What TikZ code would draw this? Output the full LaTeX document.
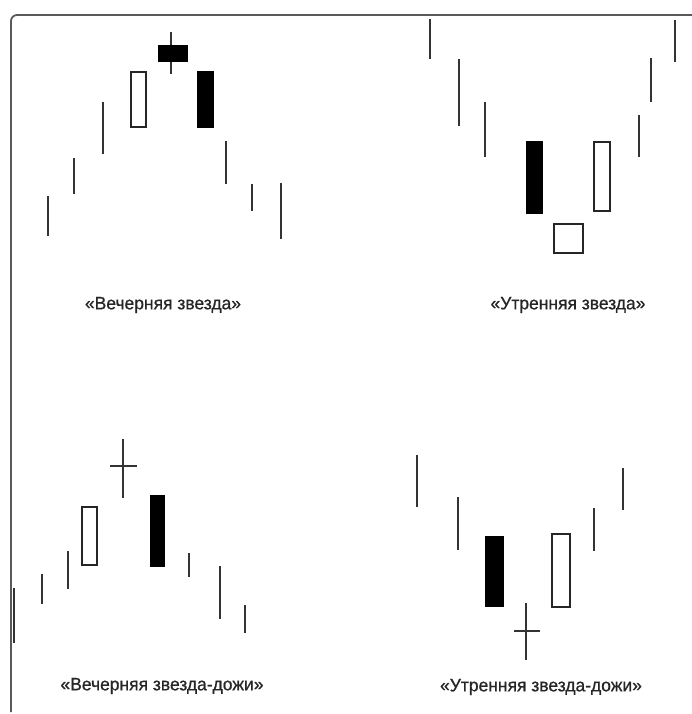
\documentclass[tikz,border=0pt]{standalone}
\usepackage{fontspec}
\newfontfamily\labelfont[FakeStretch=0.97,FakeBold=0.8]{Liberation Sans}
\begin{document}
\begin{tikzpicture}[x=1pt,y=-1pt,
  wick/.style={line width=2.2pt,draw=black!80},
  whitebody/.style={line width=1.9pt,draw=black!85,fill=white},
  blackbody/.style={line width=1.2pt,draw=black,fill=black},
  caption/.style={font=\labelfont\fontsize{18}{21}\selectfont,text=black!85}]
\useasboundingbox (0,0) rectangle (692,714);
\draw[line width=1.8pt,draw=black!65,rounded corners=6pt] (692,15) -- (11,15) -- (11,712);
% evening star
\draw[wick] (48,196) -- (48,236);
\draw[wick] (74,158) -- (74,194);
\draw[wick] (103,102) -- (103,154);
\draw[whitebody] (131,72) rectangle (146,127);
\draw[wick] (171,32) -- (171,74);
\draw[blackbody] (159,46) rectangle (187,61);
\draw[blackbody] (198,72) rectangle (213,127);
\draw[wick] (226,141) -- (226,184);
\draw[wick] (252,184) -- (252,211);
\draw[wick] (281,183) -- (281,239);
\node[caption] (evening) at (163,305) {«Вечерняя звезда»};
% morning star
\draw[wick] (430,19) -- (430,59);
\draw[wick] (459,59) -- (459,126);
\draw[wick] (485,102) -- (485,157);
\draw[blackbody] (527,142) rectangle (542,213);
\draw[whitebody] (554,224) rectangle (583,253);
\draw[whitebody] (594,142) rectangle (610,211);
\draw[wick] (639,115) -- (639,157);
\draw[wick] (651,58) -- (651,102);
\draw[wick] (675,20) -- (675,62);
\node[caption] (morning) at (568,305) {«Утренняя звезда»};
% evening doji star
\draw[wick] (14,588) -- (14,643);
\draw[wick] (42,574) -- (42,604);
\draw[wick] (68,551) -- (68,589);
\draw[whitebody] (82,507) rectangle (97,565);
\draw[wick] (123,439) -- (123,498);
\draw[wick] (110,466) -- (137,466);
\draw[blackbody] (151,496) rectangle (164,566);
\draw[wick] (189,553) -- (189,577);
\draw[wick] (220,566) -- (220,619);
\draw[wick] (245,605) -- (245,633);
\node[caption] (eveningdoji) at (162,686) {«Вечерняя звезда-дожи»};
% morning doji star
\draw[wick] (417,455) -- (417,507);
\draw[wick] (458,497) -- (458,550);
\draw[blackbody] (486,537) rectangle (503,606);
\draw[wick] (526,603) -- (526,660);
\draw[wick] (514,631) -- (540,631);
\draw[whitebody] (552,534) rectangle (570,607);
\draw[wick] (594,508) -- (594,551);
\draw[wick] (623,468) -- (623,510);
\node[caption] (morningdoji) at (541,687) {«Утренняя звезда-дожи»};
\end{tikzpicture}
\end{document}
